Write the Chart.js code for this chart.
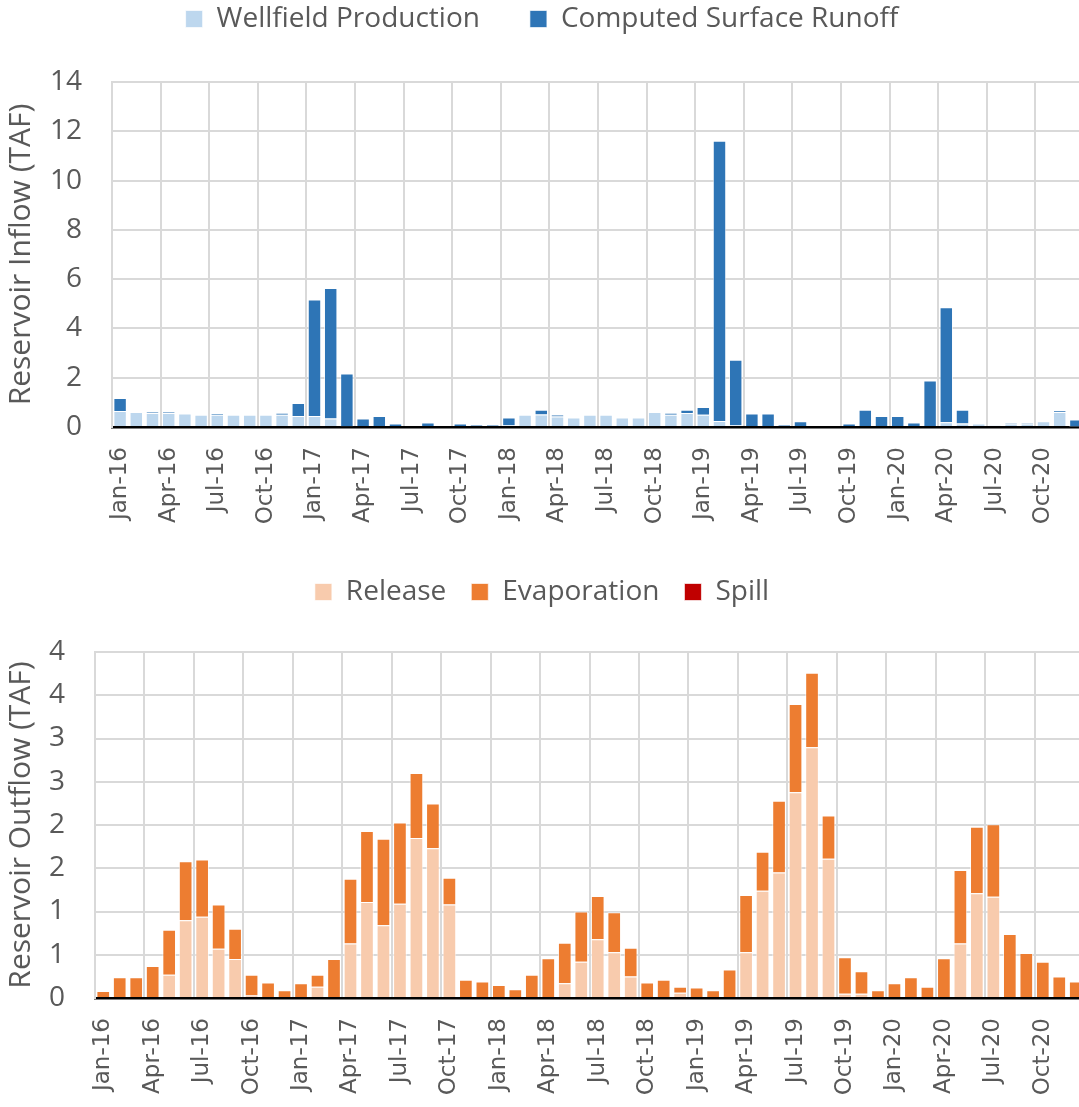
<!DOCTYPE html>
<html>
<head>
<meta charset="utf-8">
<title>Reservoir Inflow and Outflow</title>
<script src="https://cdn.jsdelivr.net/npm/chart.js@4.4.1/dist/chart.umd.min.js"></script>
<style>
  html, body { margin: 0; padding: 0; background: #ffffff; width: 1079px; height: 1107px; overflow: hidden; }
  canvas { position: absolute; left: 0; display: block; }
  #inflow { top: 0; }
  #outflow { top: 560px; }
</style>
</head>
<body>
<canvas id="inflow" width="1084" height="545"></canvas>
<canvas id="outflow" width="1084" height="547"></canvas>
<script>
// Monthly categories, Jan 2016 - Dec 2020
const months = [
  'Jan-16','Feb-16','Mar-16','Apr-16','May-16','Jun-16','Jul-16','Aug-16','Sep-16','Oct-16','Nov-16','Dec-16',
  'Jan-17','Feb-17','Mar-17','Apr-17','May-17','Jun-17','Jul-17','Aug-17','Sep-17','Oct-17','Nov-17','Dec-17',
  'Jan-18','Feb-18','Mar-18','Apr-18','May-18','Jun-18','Jul-18','Aug-18','Sep-18','Oct-18','Nov-18','Dec-18',
  'Jan-19','Feb-19','Mar-19','Apr-19','May-19','Jun-19','Jul-19','Aug-19','Sep-19','Oct-19','Nov-19','Dec-19',
  'Jan-20','Feb-20','Mar-20','Apr-20','May-20','Jun-20','Jul-20','Aug-20','Sep-20','Oct-20','Nov-20','Dec-20'
];

// Reservoir inflow (TAF)
const wellfieldProduction = [
  0.65, 0.61, 0.57, 0.57, 0.55, 0.50, 0.50, 0.50, 0.50, 0.50, 0.50, 0.45,
  0.45, 0.34, 0.03, 0.00, 0.00, 0.00, 0.00, 0.00, 0.00, 0.00, 0.00, 0.00,
  0.08, 0.50, 0.51, 0.43, 0.39, 0.50, 0.50, 0.39, 0.39, 0.61, 0.50, 0.57,
  0.50, 0.24, 0.08, 0.00, 0.00, 0.00, 0.00, 0.00, 0.00, 0.00, 0.00, 0.00,
  0.00, 0.00, 0.00, 0.19, 0.14, 0.14, 0.07, 0.14, 0.14, 0.23, 0.61, 0.02
];
const surfaceRunoff = [
  0.53, 0.00, 0.04, 0.04, 0.00, 0.00, 0.05, 0.00, 0.00, 0.00, 0.07, 0.52,
  4.72, 5.30, 2.14, 0.34, 0.45, 0.14, 0.00, 0.18, 0.00, 0.14, 0.08, 0.08,
  0.31, 0.00, 0.19, 0.08, 0.00, 0.00, 0.00, 0.00, 0.00, 0.00, 0.07, 0.13,
  0.31, 11.38, 2.65, 0.55, 0.55, 0.08, 0.23, 0.00, 0.00, 0.14, 0.70, 0.45,
  0.45, 0.18, 1.89, 4.67, 0.56, 0.00, 0.00, 0.05, 0.05, 0.00, 0.05, 0.28
];

// Reservoir outflow (TAF)
const release = [
  0.00, 0.00, 0.00, 0.00, 0.27, 0.90, 0.94, 0.57, 0.45, 0.03, 0.00, 0.00,
  0.00, 0.13, 0.00, 0.63, 1.11, 0.84, 1.09, 1.85, 1.73, 1.08, 0.00, 0.00,
  0.00, 0.00, 0.00, 0.00, 0.17, 0.42, 0.68, 0.53, 0.25, 0.00, 0.00, 0.06,
  0.00, 0.00, 0.00, 0.53, 1.24, 1.45, 2.38, 2.90, 1.61, 0.05, 0.05, 0.00,
  0.00, 0.00, 0.00, 0.00, 0.63, 1.21, 1.17, 0.00, 0.00, 0.00, 0.00, 0.00
];
const evaporation = [
  0.08, 0.24, 0.24, 0.37, 0.52, 0.68, 0.66, 0.51, 0.35, 0.24, 0.18, 0.09,
  0.17, 0.14, 0.45, 0.75, 0.82, 1.00, 0.94, 0.75, 0.52, 0.31, 0.21, 0.19,
  0.15, 0.10, 0.27, 0.46, 0.47, 0.58, 0.50, 0.46, 0.33, 0.18, 0.21, 0.07,
  0.12, 0.09, 0.33, 0.66, 0.45, 0.83, 1.02, 0.86, 0.50, 0.42, 0.26, 0.09,
  0.17, 0.24, 0.13, 0.46, 0.85, 0.77, 0.84, 0.74, 0.52, 0.42, 0.25, 0.19
];
const spill = [
  0, 0, 0, 0, 0, 0, 0, 0, 0, 0, 0, 0,
  0, 0, 0, 0, 0, 0, 0, 0, 0, 0, 0, 0,
  0, 0, 0, 0, 0, 0, 0, 0, 0, 0, 0, 0,
  0, 0, 0, 0, 0, 0, 0, 0, 0, 0, 0, 0,
  0, 0, 0, 0, 0, 0, 0, 0, 0, 0, 0, 0
];

const inflowTicks = { min: 0, max: 14, step: 2 };
const outflowTicks = { min: 0, max: 4, step: 0.5 };

const TEXT = '#595959';
const GRID = '#d9d9d9';
const SANS = "'Open Sans', 'Liberation Sans', sans-serif";
const MONTH_FAMILY = "'DejaVu Sans', sans-serif";
const MONTH_SIZE = 23;

// Month labels fall back on the global font, so set it to the axis style
Chart.defaults.font.family = MONTH_FAMILY;
Chart.defaults.font.size = MONTH_SIZE;
Chart.defaults.color = TEXT;

// Adds room between the legend and the plot area
function legendGap(extra) {
  return {
    id: 'legendGap',
    beforeInit(chart) {
      const fit = chart.legend.fit;
      chart.legend.fit = function () {
        fit.call(this);
        this.height += extra;
      };
    }
  };
}

function barSet(label, data, color) {
  return {
    label, data,
    backgroundColor: color,
    borderColor: 'rgba(255,255,255,0.65)',
    borderWidth: 1,
    barPercentage: 0.83,
    categoryPercentage: 1.0
  };
}

function makeOptions(cfg) {
  return {
    responsive: false,
    animation: false,
    events: [],
    layout: { padding: { top: cfg.padTop, left: 0, right: 0, bottom: 0 } },
    plugins: {
      tooltip: { enabled: false },
      legend: {
        position: 'top',
        align: 'center',
        labels: {
          boxWidth: 17, boxHeight: 17,
          padding: cfg.legendPad,
          color: TEXT,
          font: { family: SANS, size: 28 }
        }
      }
    },
    scales: {
      x: {
        type: 'category',
        stacked: true,
        offset: true,
        afterFit(s) {
          s.height = cfg.xHeight;
          s.paddingLeft = 0;
          s.paddingRight = 0;
        },
        grid: {
          offset: true,
          drawTicks: false,
          lineWidth: 2,
          color: (c) => (c.index % 3 === 0 ? GRID : 'rgba(0,0,0,0)')
        },
        border: { display: true, color: '#000000', width: 2.5 },
        ticks: {
          autoSkip: false,
          minRotation: 90,
          maxRotation: 90,
          padding: cfg.xPad,
          color: TEXT,
          font: { family: MONTH_FAMILY, size: MONTH_SIZE },
          callback: (v, i) => (i % 3 === 0 ? months[i] : '')
        }
      },
      y: {
        stacked: true,
        min: cfg.ticks.min,
        max: cfg.ticks.max,
        afterFit(s) { s.width = cfg.yWidth; },
        grid: {
          drawTicks: false,
          lineWidth: 2,
          color: (c) => (c.tick && c.tick.value === 0 ? 'rgba(0,0,0,0)' : GRID)
        },
        border: { display: true, color: GRID, width: 2 },
        ticks: {
          stepSize: cfg.ticks.step,
          padding: 30,
          color: TEXT,
          font: { family: SANS, size: 28 },
          callback: (v) => Math.round(v)
        },
        title: {
          display: true,
          text: cfg.title,
          color: TEXT,
          font: { family: SANS, size: 30 },
          padding: { top: 3, bottom: 0 }
        }
      }
    }
  };
}

function build() {
  new Chart(document.getElementById('inflow'), {
    type: 'bar',
    data: {
      labels: months,
      datasets: [
        barSet('Wellfield Production', wellfieldProduction, '#BDD7EE'),
        barSet('Computed Surface Runoff', surfaceRunoff, '#2E75B6')
      ]
    },
    options: makeOptions({
      padTop: -45, legendPad: 50, xHeight: 118, xPad: 20, yWidth: 112,
      ticks: inflowTicks, title: 'Reservoir Inflow (TAF)'
    }),
    plugins: [legendGap(39)]
  });

  new Chart(document.getElementById('outflow'), {
    type: 'bar',
    data: {
      labels: months,
      datasets: [
        barSet('Release', release, '#F8CBAD'),
        barSet('Evaporation', evaporation, '#ED7D31'),
        barSet('Spill', spill, '#C00000')
      ]
    },
    options: makeOptions({
      padTop: -7, legendPad: 25, xHeight: 109, xPad: 20, yWidth: 95,
      ticks: outflowTicks, title: 'Reservoir Outflow (TAF)'
    }),
    plugins: [legendGap(36)]
  });
}

const fontsReady = (document.fonts && document.fonts.load)
  ? Promise.all([
      document.fonts.load("28px 'Open Sans'"),
      document.fonts.load("23px 'DejaVu Sans'")
    ]).catch(() => {})
  : Promise.resolve();
fontsReady.then(build);
</script>
</body>
</html>
